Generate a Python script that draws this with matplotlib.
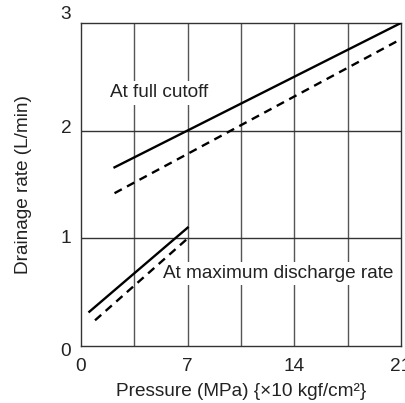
import matplotlib
matplotlib.use("Agg")
import matplotlib.pyplot as plt
import matplotlib.transforms as mtransforms

plt.rcParams['font.family'] = ['Liberation Sans', 'DejaVu Sans']

# Data
cutoff_solid_x = [2.2, 21.0]
cutoff_solid_y = [1.66, 3.0]
cutoff_dash_x = [2.2, 21.0]
cutoff_dash_y = [1.42, 2.85]
maxdis_solid_x = [0.55, 7.0]
maxdis_solid_y = [0.32, 1.10]
maxdis_dash_x = [0.92, 7.0]
maxdis_dash_y = [0.24, 1.00]

x_ticks = [0, 7, 14, 21]
x_tick_labels = ["0", "7", "14", "21"]
y_ticks = [0, 1, 2, 3]
y_tick_labels = ["0", "1", "2", "3"]
x_grid = [3.5, 7, 10.5, 14, 17.5]
y_grid = [1, 2]

fig = plt.figure(figsize=(4.05, 4.03), dpi=100)
ax = fig.add_axes([0.2, 0.141, 0.790, 0.802])
ax.set_xlim(0, 21)
ax.set_ylim(0, 3)

gc = '#555555'
for gx in x_grid:
    ax.axvline(gx, color=gc, lw=1.0, zorder=1)
for gy in y_grid:
    ax.axhline(gy, color='#333333', lw=1.0, zorder=1)

ax.plot(cutoff_solid_x, cutoff_solid_y, color='black', lw=1.7, zorder=3)
ax.plot(cutoff_dash_x, cutoff_dash_y, color='black', lw=1.7, ls=(0, (3.5, 2.5)), zorder=3)
ax.plot(maxdis_solid_x, maxdis_solid_y, color='black', lw=1.7, zorder=3)
ax.plot(maxdis_dash_x, maxdis_dash_y, color='black', lw=1.7, ls=(0, (3.5, 2.5)), zorder=3)

fs = 13.7
tc = '#222222'
ax.text(1.9, 2.35, "At full cutoff", fontsize=fs, color=tc, va='center', ha='left',
        zorder=2, bbox=dict(facecolor='white', edgecolor='none', pad=2.5))
ax.text(5.4, 0.675, "At maximum discharge rate", fontsize=fs, color=tc, va='center', ha='left',
        zorder=2, bbox=dict(facecolor='white', edgecolor='none', pad=2.5))

ax.set_xticks(x_ticks)
ax.set_xticklabels(x_tick_labels)
ax.tick_params(axis='x', length=0, pad=8.5, labelsize=fs, colors=tc)
ax.set_yticks([])
# y tick labels with individual vertical offsets as in reference
y_offsets_pt = [-4.1, 0, 1.9, 5.8]
for yv, lab, off in zip(y_ticks, y_tick_labels, y_offsets_pt):
    tr = mtransforms.offset_copy(ax.get_yaxis_transform(), fig=fig, x=-7, y=off, units='points')
    ax.text(0, yv, lab, transform=tr, ha='right', va='center', fontsize=fs, color=tc, clip_on=False)

for s in ax.spines.values():
    s.set_color('#333333')
    s.set_linewidth(1.0)

ax.set_xlabel("Pressure (MPa) {×10 kgf/cm²}", fontsize=fs, color=tc, labelpad=6)
ax.set_ylabel("Drainage rate (L/min)", fontsize=fs, color=tc, labelpad=35.5)

fig.savefig("out.png", dpi=100)
